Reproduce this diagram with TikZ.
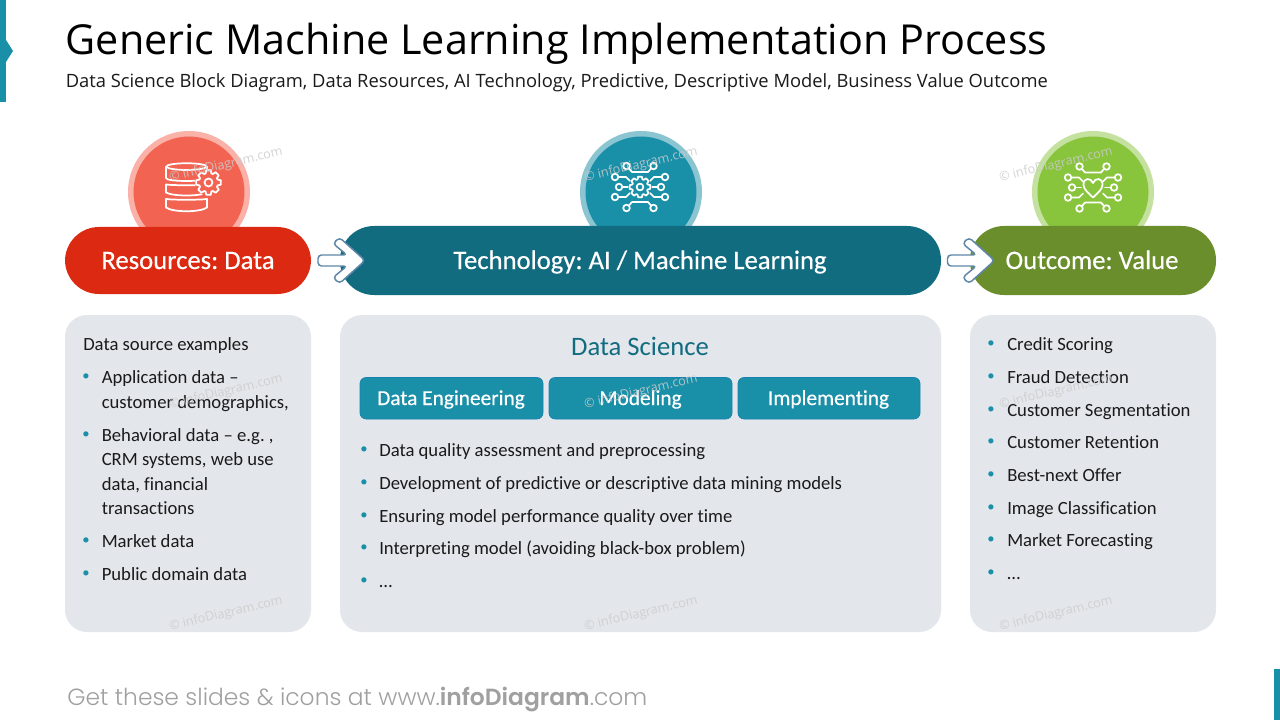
\documentclass[tikz,border=0pt]{standalone}
\usepackage{fontspec}
\setmainfont[Ligatures=NoCommon]{Carlito}
\newfontfamily\semifont[FakeBold=0.45,Ligatures=NoCommon]{Carlito}
\newfontfamily\titlefont{Open Sans}
\newfontfamily\footfont[UprightFont=* Light,BoldFont=* SemiBold]{Poppins}
\frenchspacing
\definecolor{tealdark}{HTML}{126C80}
\definecolor{tealmid}{HTML}{1A8FA8}
\definecolor{tealring}{HTML}{8CC5D2}
\definecolor{redpill}{HTML}{DC2A12}
\definecolor{redcirc}{HTML}{F26451}
\definecolor{redring}{HTML}{F9B1A8}
\definecolor{greenpill}{HTML}{6B8E2C}
\definecolor{greencirc}{HTML}{88C43C}
\definecolor{greenring}{HTML}{C5E1A0}
\definecolor{panel}{HTML}{E3E6EB}
\definecolor{arrowline}{HTML}{5E87A8}
\definecolor{footgrey}{HTML}{A0A0A0}
\definecolor{ink}{HTML}{1A1A1A}
\tikzset{
  x=0.75pt,y=-0.75pt,
  panelbox/.style={fill=panel,rounded corners=16.5pt},
  pill/.style={rounded corners=25.5pt},
  subbox/.style={draw=tealmid!90!blue,line width=.5pt,fill=tealmid,rounded corners=4.5pt},
  subtext/.style={text=white,font=\semifont\fontsize{16}{16}\selectfont,anchor=base,inner sep=0pt},
  pilltext/.style={text=white,font=\semifont\fontsize{20}{20}\selectfont,anchor=base,inner sep=0pt},
  bodytext/.style={anchor=base west,inner sep=0pt,text=ink,font=\fontsize{14}{14}\selectfont},
  bulletdot/.style={anchor=center,inner sep=0pt,text=tealmid,font=\fontsize{11}{11}\selectfont},
  blockarrow/.style={draw=arrowline,fill=white,line width=1.1pt,rounded corners=2.6pt,line join=round},
  iconline/.style={draw=white,line width=1.3pt,line cap=round,line join=round},
  wmark/.style={rotate=13,text=gray!40,opacity=.85,font=\titlefont\fontsize{9.5}{10}\selectfont,anchor=center,inner sep=0pt},
}
\newcommand{\bodyline}[4]{\node[bodytext] (#1) at (#2,#3+6) {#4};}
\newcommand{\bulletat}[3]{\node[bulletdot] (#1) at (#2,#3) {•};}
\newcommand{\gearat}[5]{% cx cy outer inner fill
  \begin{scope}[shift={(#1,#2)}]
    \fill[#5] (0,0) circle (#3+1);
    \foreach \ga in {0,45,...,315}
      \draw[iconline] (\ga-10:#3)--(\ga+10:#3)--(\ga+18:#4)--(\ga+27:#4)--(\ga+35:#3);
    \draw[iconline] (0,0) circle (#4*.42);
  \end{scope}}
\newcommand{\circuitat}[2]{%
  \begin{scope}[shift={(#1,#2)}]
    \foreach \p in {(-13.5,-21),(13.5,-21),(-13.5,21),(13.5,21),(-25,-10),(25,-10),(-21,0),(21,0),(-25,10),(25,10)}
      \draw[iconline] \p circle (3.3);
    \draw[iconline] (-11,-18.5)--(-8,-15)--(8,-15)--(11,-18.5);
    \draw[iconline] (-11,18.5)--(-8,15)--(8,15)--(11,18.5);
    \draw[iconline] (-21.5,-10)--(-14,-10)--(-10,-6);
    \draw[iconline] (21.5,-10)--(14,-10)--(10,-6);
    \draw[iconline] (-21.5,10)--(-14,10)--(-10,6);
    \draw[iconline] (21.5,10)--(14,10)--(10,6);
    \draw[iconline] (-17.5,0)--(-12,0);
    \draw[iconline] (17.5,0)--(12,0);
  \end{scope}}
\newcommand{\arrowat}[1]{%
  \begin{scope}[shift={(#1,0)}]
    \draw[blockarrow] (318,255)--(347,255)--(333,243.5)--(339.5,237.5)--(365,260.5)--(339.5,283.5)--(333,277.5)--(347,266)--(318,266)--cycle;
  \end{scope}}
\begin{document}
\begin{tikzpicture}
\useasboundingbox (0,0) rectangle (1280,720);
\fill[white] (0,0) rectangle (1280,720);
% side marks
\fill[tealmid] (0,0) rectangle (6,102);
\fill[tealmid] (6,40)--(13,51)--(6,62)--cycle;
\fill[tealmid] (1274,669) rectangle (1280,720);
% titles
\node[anchor=base west,inner sep=0pt,text=black,font=\titlefont\fontsize{31}{31}\selectfont] (title) at (65.5,55) {Generic Machine Learning Implementation Process};
\node[anchor=base west,inner sep=0pt,text=ink,font=\titlefont\fontsize{13.76}{14}\selectfont] (subtitle) at (65.5,88) {Data Science Block Diagram, Data Resources, AI Technology, Predictive, Descriptive Model, Business Value Outcome};
% circles
\fill[redring] (189,192) circle (61);
\fill[redcirc] (189,192) circle (55.5);
\fill[tealring] (641,192) circle (61);
\fill[tealmid] (641,192) circle (55.5);
\fill[greenring] (1093,192) circle (61);
\fill[greencirc] (1093,192) circle (55.5);
% database icon
\draw[iconline] (166,167) .. controls (166,162) and (207,162) .. (207,167) -- (207,178) .. controls (207,182) and (166,182) .. (166,178) -- cycle;
\draw[iconline] (166,167) .. controls (172,171) and (201,171) .. (207,167);
\draw[iconline] (166,184.5) .. controls (173,185.5) and (200,185.5) .. (207,184.5) -- (207,192.5) .. controls (200,196.5) and (173,196.5) .. (166,192.5) -- cycle;
\draw[iconline] (166,199) .. controls (173,200) and (200,200) .. (207,199) -- (207,207.5) .. controls (200,212.5) and (173,212.5) .. (166,207.5) -- cycle;
\gearat{208.5}{182.5}{12.5}{9.5}{redcirc}
\circuitat{640}{187}
\gearat{640}{187}{10.5}{8}{tealmid}
\circuitat{1093}{187.5}
\draw[iconline] (1093,197.5) .. controls (1088,192.5) and (1083.5,189.5) .. (1083.5,184.5) .. controls (1083.5,177.5) and (1091,177.5) .. (1093,183) .. controls (1095,177.5) and (1102.5,177.5) .. (1102.5,184.5) .. controls (1102.5,189.5) and (1098,192.5) .. (1093,197.5) -- cycle;
% pills
\fill[redpill,pill] (65,227) rectangle (311,294);
\fill[tealdark,pill] (340,226) rectangle (941,295);
\fill[greenpill,pill] (970,226) rectangle (1216,295);
\node[pilltext] (pillA) at (188,269) {Resources: Data};
\node[pilltext] (pillB) at (640,269) {Technology: AI / Machine Learning};
\node[pilltext] (pillC) at (1092,269) {Outcome: Value};
% arrows
\arrowat{0}
\arrowat{629.5}
% panels
\fill[panelbox] (65,315) rectangle (311,632);
\fill[panelbox] (340,315) rectangle (941,632);
\fill[panelbox] (970,315) rectangle (1216,632);
% left panel
\bodyline{a0}{83}{344}{Data source examples}
\bulletat{ab1}{86}{377}
\bodyline{a1}{101.5}{377}{Application data –}
\bodyline{a1b}{101.5}{402}{customer demographics,}
\bulletat{ab2}{86}{435}
\bodyline{a2}{101.5}{435}{Behavioral data – e.g. ,}
\bodyline{a2b}{101.5}{459}{CRM systems, web use}
\bodyline{a2c}{101.5}{484}{data, financial}
\bodyline{a2d}{101.5}{508}{transactions}
\bulletat{ab3}{86}{541}
\bodyline{a3}{101.5}{541}{Market data}
\bulletat{ab4}{86}{574}
\bodyline{a4}{101.5}{574}{Public domain data}
% middle panel
\node[anchor=base,inner sep=0pt,text=tealdark,font=\fontsize{20}{20}\selectfont] (ds) at (640,355) {Data Science};
\draw[subbox] (360,377.5) rectangle (543,419);
\draw[subbox] (549,377.5) rectangle (732,419);
\draw[subbox] (738,377.5) rectangle (920,419);
\node[subtext] (s1) at (451,405) {Data Engineering};
\node[subtext] (s2) at (640.5,405) {Modeling};
\node[subtext] (s3) at (828.5,405) {Implementing};
\bulletat{bb1}{364}{450}
\bodyline{b1}{379}{450}{Data quality assessment and preprocessing}
\bulletat{bb2}{364}{483}
\bodyline{b2}{379}{483}{Development of predictive or descriptive data mining models}
\bulletat{bb3}{364}{516}
\bodyline{b3}{379}{516}{Ensuring model performance quality over time}
\bulletat{bb4}{364}{548}
\bodyline{b4}{379}{548}{Interpreting model (avoiding black-box problem)}
\bulletat{bb5}{364}{581}
\bodyline{b5}{379}{581}{…}
% right panel
\bulletat{cb1}{991}{344}
\bodyline{c1}{1007}{344}{Credit Scoring}
\bulletat{cb2}{991}{377}
\bodyline{c2}{1007}{377}{Fraud Detection}
\bulletat{cb3}{991}{410}
\bodyline{c3}{1007}{410}{Customer Segmentation}
\bulletat{cb4}{991}{442}
\bodyline{c4}{1007}{442}{Customer Retention}
\bulletat{cb5}{991}{475}
\bodyline{c5}{1007}{475}{Best-next Offer}
\bulletat{cb6}{991}{508}
\bodyline{c6}{1007}{508}{Image Classification}
\bulletat{cb7}{991}{540}
\bodyline{c7}{1007}{540}{Market Forecasting}
\bulletat{cb8}{991}{573}
\bodyline{c8}{1007}{573}{…}
% footer
\node[anchor=base west,inner sep=0pt,text=footgrey,font=\footfont\fontsize{17.55}{18}\selectfont] (foot) at (67,705) {Get these slides \& icons at www.\textbf{infoDiagram}.com};
% watermarks
\foreach \nm/\wx/\wy in {w1/226/165,w2/641/165,w3/1056/165,w4/226/392,w5/641/392,w6/1056/392,w7/226/614,w8/641/614,w9/1056/614}
  \node[wmark] (\nm) at (\wx,\wy) {© infoDiagram.com};
\end{tikzpicture}
\end{document}
